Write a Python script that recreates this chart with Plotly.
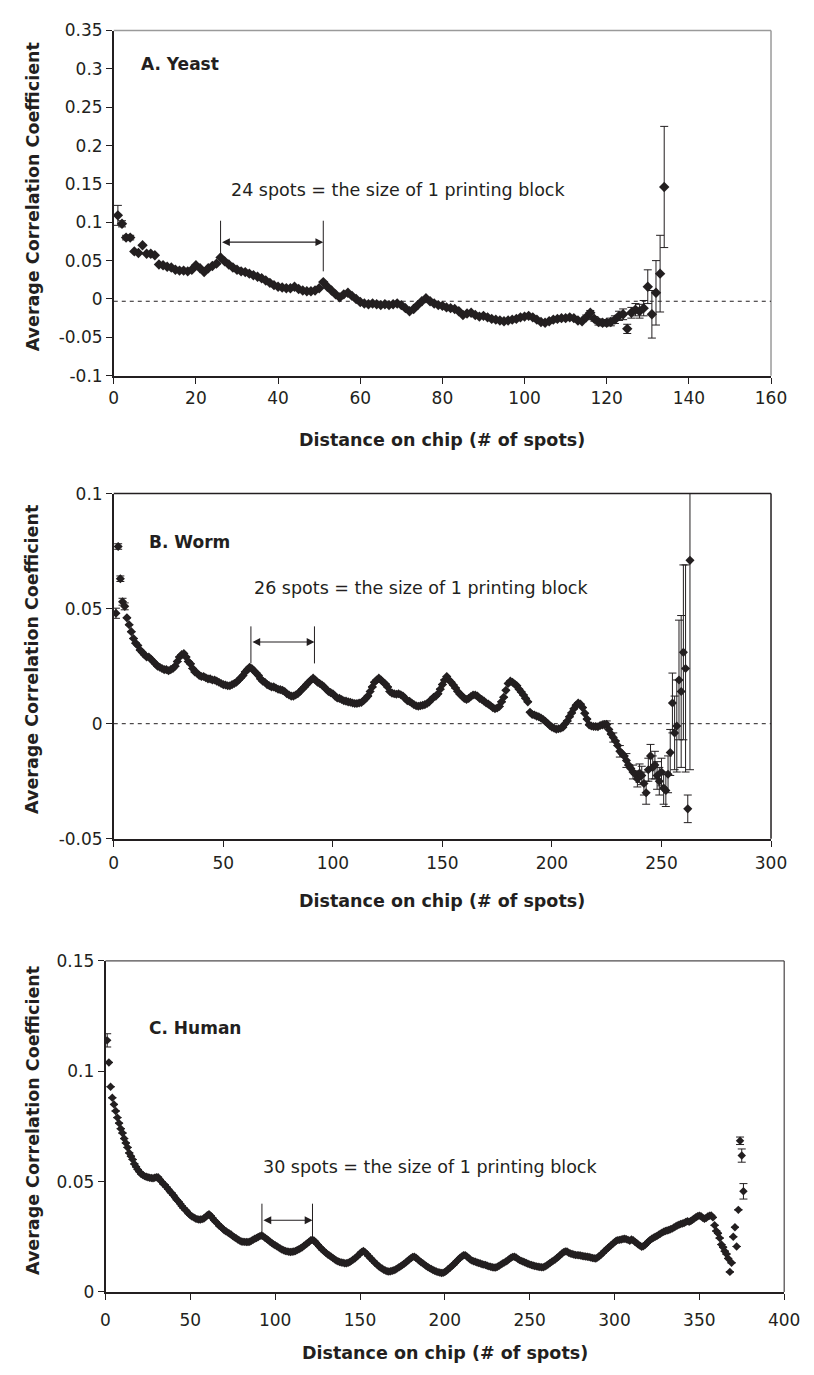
import plotly.graph_objects as go

# The page body keeps its default 8px margin, so the figure is sized to fit inside it
PAGE_W, PAGE_H, OFF = 814, 1375, 8
W, H = PAGE_W - 2 * OFF, PAGE_H - 2 * OFF
INK = "#231f20"
FONT = "DejaVu Sans"

# ---------------- data ----------------
yeast_y = [
    0.109, 0.098, 0.080, 0.080, 0.062, 0.060, 0.070, 0.059, 0.059, 0.057,
    0.045, 0.044, 0.042, 0.041, 0.038, 0.037, 0.037, 0.036, 0.038, 0.044,
    0.040, 0.035, 0.040, 0.043, 0.046, 0.054, 0.049, 0.045, 0.041, 0.038,
    0.036, 0.035, 0.033, 0.031, 0.029, 0.027, 0.024, 0.021, 0.018, 0.016,
    0.015, 0.014, 0.014, 0.016, 0.013, 0.011, 0.010, 0.010, 0.011, 0.014,
    0.022, 0.016, 0.011, 0.006, 0.002, 0.006, 0.008, 0.004, 0.000, -0.004,
    -0.006, -0.007, -0.006, -0.007, -0.008, -0.007, -0.008, -0.007, -0.006, -0.008,
    -0.012, -0.016, -0.013, -0.008, -0.003, 0.001, -0.003, -0.006, -0.008, -0.009,
    -0.011, -0.012, -0.013, -0.016, -0.021, -0.019, -0.018, -0.021, -0.023, -0.022,
    -0.024, -0.026, -0.027, -0.028, -0.029, -0.028, -0.027, -0.026, -0.024, -0.023,
    -0.022, -0.024, -0.027, -0.030, -0.031, -0.029, -0.027, -0.026, -0.025, -0.025,
    -0.024, -0.025, -0.028, -0.029, -0.024, -0.018, -0.026, -0.030, -0.031, -0.031,
    -0.030, -0.027, -0.022, -0.020, -0.039, -0.018, -0.014, -0.016, -0.012, 0.016,
    -0.020, 0.008, 0.033, 0.146,
]
yeast_x = list(range(1, len(yeast_y) + 1))
yeast_err_x = [1, 2, 3, 4, 115, 116, 117, 118, 119, 120, 121, 122, 123, 124,
               125, 126, 127, 128, 129, 130, 131, 132, 133, 134]
yeast_err = [0.013, 0.004, 0.003, 0.003, 0.003, 0.003, 0.003, 0.004, 0.004, 0.004,
             0.005, 0.005, 0.006, 0.007, 0.006, 0.007, 0.008, 0.009, 0.010, 0.022,
             0.031, 0.042, 0.050, 0.079]

worm_y = [
    0.048, 0.077, 0.063, 0.053, 0.051, 0.046, 0.043, 0.040, 0.037, 0.035,
    0.034, 0.032, 0.031, 0.030, 0.029, 0.029, 0.028, 0.027, 0.026, 0.025,
    0.0245, 0.024, 0.0235, 0.0235, 0.023, 0.0235, 0.024, 0.025, 0.027, 0.029,
    0.030, 0.0305, 0.029, 0.027, 0.026, 0.024, 0.0225, 0.022, 0.021, 0.0205,
    0.0205, 0.020, 0.0195, 0.0195, 0.019, 0.019, 0.0185, 0.018, 0.0175, 0.017,
    0.0168, 0.0165, 0.0165, 0.017, 0.0175, 0.018, 0.019, 0.020, 0.021, 0.0225,
    0.0235, 0.0245, 0.024, 0.023, 0.022, 0.021, 0.0195, 0.0185, 0.018, 0.017,
    0.0165, 0.016, 0.016, 0.0155, 0.015, 0.0148, 0.0145, 0.014, 0.013, 0.0125,
    0.012, 0.012, 0.0125, 0.013, 0.014, 0.015, 0.016, 0.017, 0.018, 0.019,
    0.0198, 0.019, 0.018, 0.0175, 0.0168, 0.016, 0.015, 0.014, 0.0135, 0.013,
    0.012, 0.0112, 0.011, 0.0105, 0.010, 0.0098, 0.0095, 0.0093, 0.009, 0.0088,
    0.0088, 0.009, 0.0092, 0.010, 0.011, 0.012, 0.014, 0.016, 0.018, 0.019,
    0.0198, 0.019, 0.018, 0.0172, 0.016, 0.014, 0.0133, 0.013, 0.0128, 0.013,
    0.0126, 0.012, 0.011, 0.010, 0.0097, 0.009, 0.0083, 0.0078, 0.0076, 0.0078,
    0.008, 0.0083, 0.0088, 0.0095, 0.0105, 0.0115, 0.012, 0.013, 0.015, 0.017,
    0.019, 0.0205, 0.019, 0.018, 0.0168, 0.0155, 0.014, 0.0128, 0.012, 0.011,
    0.0105, 0.011, 0.0118, 0.0125, 0.0125, 0.012, 0.011, 0.0105, 0.0098, 0.009,
    0.0085, 0.0078, 0.007, 0.0065, 0.0068, 0.0075, 0.0095, 0.0115, 0.0145, 0.0175,
    0.0185, 0.018, 0.0172, 0.0165, 0.015, 0.0138, 0.0125, 0.011, 0.0095, 0.005,
    0.004, 0.0038, 0.0033, 0.003, 0.0025, 0.0018, 0.001, 0.0002, -0.0008, -0.0015,
    -0.002, -0.0024, -0.0022, -0.002, -0.0015, 0.000, 0.0012, 0.003, 0.0047, 0.0065,
    0.008, 0.009, 0.0085, 0.007, 0.0045, 0.002, -0.0005, -0.001, -0.0012, -0.0012,
    -0.0013, -0.0008, -0.0005, -0.0004, -0.0003, -0.0025, -0.0045, -0.006, -0.0075, -0.0095,
    -0.012, -0.013, -0.014, -0.016, -0.018, -0.0195, -0.021, -0.022, -0.024, -0.0215,
    -0.0225, -0.026, -0.030, -0.020, -0.014, -0.019, -0.018, -0.0225, -0.025, -0.021,
    -0.028, -0.029, -0.022, -0.0125, 0.009, -0.004, -0.001, 0.019, 0.014, 0.031,
    0.024, -0.037, 0.071,
]
worm_x = list(range(1, len(worm_y) + 1))
worm_err_x = [1, 2, 3, 4, 5, 225, 228, 231, 234, 237, 239, 240, 241, 242, 243, 244,
              245, 246, 247, 248, 249, 250, 251, 252, 253, 254, 255, 256, 257, 258,
              259, 260, 261, 262, 263]
worm_err = [0.0022, 0.0012, 0.0012, 0.0015, 0.0015, 0.0015, 0.002, 0.0025, 0.003, 0.003,
            0.0035, 0.004, 0.004, 0.005, 0.005, 0.005, 0.005, 0.005, 0.006, 0.006,
            0.006, 0.006, 0.007, 0.007, 0.008, 0.010, 0.013, 0.016, 0.020, 0.026,
            0.033, 0.038, 0.045, 0.006, 0.091]

human_y = [
    0.114, 0.104, 0.093, 0.088, 0.085, 0.082, 0.079, 0.0765, 0.074, 0.072,
    0.0695, 0.0675, 0.0655, 0.063, 0.0615, 0.060, 0.058, 0.0567, 0.0555, 0.0545,
    0.0535, 0.053, 0.0525, 0.0522, 0.052, 0.0518, 0.0516, 0.0515, 0.0518, 0.052,
    0.052, 0.051, 0.050, 0.049, 0.0485, 0.0475, 0.0465, 0.0455, 0.0448, 0.0438,
    0.0428, 0.0418, 0.041, 0.040, 0.039, 0.038, 0.0372, 0.0365, 0.0355, 0.0348,
    0.0342, 0.0338, 0.0333, 0.033, 0.0328, 0.0328, 0.033, 0.0333, 0.034, 0.0348,
    0.0352, 0.0345, 0.0335, 0.0325, 0.0318, 0.031, 0.030, 0.0295, 0.0288, 0.028,
    0.0275, 0.027, 0.0265, 0.026, 0.0253, 0.0248, 0.0243, 0.0238, 0.0233, 0.0229,
    0.0228, 0.0227, 0.0226, 0.0226, 0.0228, 0.0232, 0.0237, 0.0241, 0.0245, 0.0249,
    0.0253, 0.0256, 0.0252, 0.0246, 0.024, 0.0234, 0.0228, 0.0222, 0.0216, 0.0212,
    0.0207, 0.0202, 0.0197, 0.0192, 0.0189, 0.0186, 0.0184, 0.0182, 0.0181, 0.0182,
    0.0183, 0.0186, 0.019, 0.0194, 0.0198, 0.0203, 0.0209, 0.0215, 0.0221, 0.0228,
    0.0234, 0.0237, 0.0232, 0.0224, 0.0215, 0.0206, 0.0198, 0.019, 0.0183, 0.0177,
    0.017, 0.0165, 0.016, 0.0154, 0.0148, 0.0143, 0.0139, 0.0136, 0.0134, 0.0132,
    0.013, 0.013, 0.0132, 0.0136, 0.0141, 0.0147, 0.0152, 0.0159, 0.0166, 0.0174,
    0.0181, 0.0186, 0.018, 0.0172, 0.0163, 0.0155, 0.0147, 0.0139, 0.0131, 0.0124,
    0.0117, 0.0111, 0.0106, 0.0101, 0.0097, 0.0094, 0.0093, 0.0094, 0.0096, 0.0098,
    0.0102, 0.0107, 0.0112, 0.0117, 0.0122, 0.0128, 0.0134, 0.014, 0.0147, 0.0153,
    0.0158, 0.016, 0.0155, 0.0148, 0.0141, 0.0135, 0.013, 0.0124, 0.0118, 0.0113,
    0.0108, 0.0104, 0.010, 0.0096, 0.0093, 0.009, 0.0088, 0.0086, 0.0087, 0.009,
    0.0096, 0.0103, 0.011, 0.0117, 0.0123, 0.0131, 0.0139, 0.0147, 0.0155, 0.0161,
    0.0166, 0.0167, 0.0161, 0.0154, 0.0147, 0.0142, 0.0139, 0.0137, 0.0134, 0.0131,
    0.0129, 0.0126, 0.0124, 0.0122, 0.0119, 0.0116, 0.0114, 0.0112, 0.0111, 0.0111,
    0.0114, 0.0119, 0.0124, 0.0129, 0.0133, 0.0138, 0.0143, 0.0149, 0.0155, 0.0159,
    0.016, 0.0156, 0.015, 0.0145, 0.0141, 0.0138, 0.0135, 0.0131, 0.0128, 0.0125,
    0.0122, 0.012, 0.0118, 0.0116, 0.0114, 0.0113, 0.0112, 0.0112, 0.0115, 0.012,
    0.0126, 0.0131, 0.0137, 0.0142, 0.0147, 0.0154, 0.016, 0.0167, 0.0174, 0.018,
    0.0184, 0.0183, 0.0178, 0.0174, 0.0172, 0.017, 0.0168, 0.0167, 0.0166, 0.0165,
    0.0163, 0.0162, 0.0161, 0.016, 0.0158, 0.0156, 0.0154, 0.0153, 0.0152, 0.0156,
    0.0162, 0.0169, 0.0176, 0.0184, 0.0191, 0.0198, 0.0205, 0.0212, 0.0219, 0.0225,
    0.0232, 0.0235, 0.0236, 0.0238, 0.024, 0.0241, 0.0239, 0.0236, 0.0232, 0.0238,
    0.0234, 0.0228, 0.0222, 0.0215, 0.021, 0.0205, 0.0207, 0.0213, 0.0221, 0.0229,
    0.0236, 0.0241, 0.0246, 0.025, 0.0254, 0.0259, 0.0264, 0.0269, 0.0273, 0.0276,
    0.0279, 0.0281, 0.0284, 0.0287, 0.0292, 0.0297, 0.0301, 0.0305, 0.0308, 0.031,
    0.0313, 0.0317, 0.0321, 0.0318, 0.0322, 0.0327, 0.0333, 0.0339, 0.0343, 0.0346,
    0.0343, 0.0336, 0.0332, 0.0335, 0.0342, 0.0345, 0.0347, 0.0338, 0.0302, 0.0276,
    0.0266, 0.0244, 0.0215, 0.0203, 0.0185, 0.0172, 0.0152, 0.0091, 0.0132, 0.025,
    0.0293, 0.0206, 0.0372, 0.0685, 0.0618, 0.0456,
]
human_x = list(range(1, len(human_y) + 1))
human_err_x = [1, 374, 375, 376]
human_err = [0.003, 0.0017, 0.003, 0.0035]

# axis ticks
yeast_xticks = [0, 20, 40, 60, 80, 100, 120, 140, 160]
yeast_yticks = [-0.1, -0.05, 0, 0.05, 0.1, 0.15, 0.2, 0.25, 0.3, 0.35]
yeast_ylabels = ["-0.1", "-0.05", "0", "0.05", "0.1", "0.15", "0.2", "0.25", "0.3", "0.35"]
worm_xticks = [0, 50, 100, 150, 200, 250, 300]
worm_yticks = [-0.05, 0, 0.05, 0.1]
worm_ylabels = ["-0.05", "0", "0.05", "0.1"]
human_xticks = [0, 50, 100, 150, 200, 250, 300, 350, 400]
human_yticks = [0, 0.05, 0.1, 0.15]
human_ylabels = ["0", "0.05", "0.1", "0.15"]

# ---------------- layout geometry (page pixels) ----------------
panels = {
    "A": dict(l=111.5, r=786.5, t=20.7, b=371, xr=[0, 160], yr=[-0.1, 0.35], ms=8,
              xt=yeast_xticks, yt=yeast_yticks, yl=yeast_ylabels, xtitle_y=436,
              ytitle_y=189.5, xstand=0),
    "B": dict(l=111.5, r=786.5, t=490.7, b=841, xr=[0, 300], yr=[-0.05, 0.1], ms=7,
              xt=worm_xticks, yt=worm_yticks, yl=worm_ylabels, xtitle_y=904,
              ytitle_y=659, xstand=2),
    "C": dict(l=103, r=800, t=965, b=1301, xr=[0, 400], yr=[0, 0.15], ms=6.5,
              xt=human_xticks, yt=human_yticks, yl=human_ylabels, xtitle_y=1363,
              ytitle_y=1127, xstand=6),
}
series = {"A": (yeast_x, yeast_y, yeast_err_x, yeast_err),
          "B": (worm_x, worm_y, worm_err_x, worm_err),
          "C": (human_x, human_y, human_err_x, human_err)}
suffix = {"A": "", "B": "2", "C": "3"}


def fx(px):
    return (px - OFF) / W


def fy(py):
    return 1 - (py - OFF) / H


fig = go.Figure()
layout = dict(width=W, height=H, margin=dict(l=0, r=0, t=0, b=0),
              paper_bgcolor="white", plot_bgcolor="white", showlegend=False,
              font=dict(family=FONT, color=INK))
shapes, annots = [], []

for k, p in panels.items():
    s = suffix[k]
    xs, ys, ex, ev = series[k]
    emap = dict(zip(ex, ev))
    err = [emap.get(x, 0) for x in xs]
    fig.add_trace(go.Scatter(
        x=xs, y=ys, mode="markers", xaxis="x" + s, yaxis="y" + s,
        marker=dict(symbol="diamond", size=p["ms"], color=INK, line=dict(width=0)),
        error_y=dict(type="data", array=err, visible=True, color=INK, thickness=1, width=4),
        hoverinfo="skip"))
    xd = [fx(p["l"]), fx(p["r"])]
    yd = [fy(p["b"]), fy(p["t"])]
    layout["xaxis" + s] = dict(
        domain=xd, anchor="y" + s, range=p["xr"], tickvals=p["xt"],
        ticktext=[str(v) for v in p["xt"]], ticks="outside", ticklen=6, tickwidth=1,
        tickcolor=INK, showline=True, linecolor=INK, linewidth=2, showgrid=False,
        zeroline=False, tickfont=dict(family=FONT, size=17, color=INK), fixedrange=True,
        ticklabelstandoff=p["xstand"])
    layout["yaxis" + s] = dict(
        domain=yd, anchor="x" + s, range=p["yr"], tickvals=p["yt"], ticktext=p["yl"],
        ticks="outside", ticklen=6, tickwidth=1, tickcolor=INK, showline=True,
        linecolor=INK, linewidth=1.5, showgrid=False, zeroline=False,
        tickfont=dict(family=FONT, size=17, color=INK), fixedrange=True)
    border = "#9a9a9a" if k == "A" else INK
    bw = 1 if k == "C" else 1.5
    shapes.append(dict(type="line", xref="x" + s + " domain", yref="y" + s + " domain",
                       x0=0, x1=1, y0=1, y1=1, line=dict(color=border, width=bw)))
    shapes.append(dict(type="line", xref="x" + s + " domain", yref="y" + s + " domain",
                       x0=1, x1=1, y0=0, y1=1, line=dict(color=border, width=bw)))
    # axis titles
    annots.append(dict(xref="paper", yref="paper", x=fx((p["l"] + p["r"]) / 2),
                       y=fy(p["xtitle_y"]), text="<b>Distance on chip (# of spots)</b>",
                       showarrow=False, xanchor="center", yanchor="middle",
                       font=dict(family=FONT, size=17.5, color=INK)))
    annots.append(dict(xref="paper", yref="paper", x=fx(28), y=fy(p["ytitle_y"]),
                       text="<b>Average Correlation Coefficient</b>", textangle=-90,
                       showarrow=False, xanchor="center", yanchor="middle",
                       font=dict(family=FONT, size=17.5, color=INK)))

# zero reference lines (dashed)
shapes.append(dict(type="line", xref="x domain", yref="y", x0=0, x1=1, y0=-0.003, y1=-0.003,
                   line=dict(color=INK, width=1, dash="4px,4px")))
shapes.append(dict(type="line", xref="x2 domain", yref="y2", x0=0, x1=1, y0=0, y1=0,
                   line=dict(color=INK, width=1, dash="4px,4px")))

# printing-block markers: (axis suffix, left x, right x, top y, bottom-left y, bottom-right y, arrow y)
blocks = [("", 26, 51, 0.102, 0.059, 0.036, 0.074),
          ("2", 62.6, 91.6, 0.0423, 0.0262, 0.0262, 0.0355),
          ("3", 92.2, 122, 0.040, 0.0241, 0.0241, 0.0325)]
for s, xl, xr_, yt, ybl, ybr, ya in blocks:
    shapes.append(dict(type="line", xref="x" + s, yref="y" + s, x0=xl, x1=xl, y0=ybl, y1=yt,
                       line=dict(color=INK, width=1)))
    shapes.append(dict(type="line", xref="x" + s, yref="y" + s, x0=xr_, x1=xr_, y0=ybr, y1=yt,
                       line=dict(color=INK, width=1)))
    annots.append(dict(xref="x" + s, yref="y" + s, axref="x" + s, ayref="y" + s,
                       x=xr_, y=ya, ax=xl, ay=ya, text="", showarrow=True,
                       arrowhead=2, startarrowhead=2, arrowside="end+start",
                       arrowsize=1.3, startarrowsize=1.3, arrowwidth=1.2, arrowcolor=INK,
                       standoff=0, startstandoff=0))

# panel labels and notes
labels = [("", 6.2, 0.306, "<b>A. Yeast</b>", "left", 17),
          ("", 69.3, 0.142, "24 spots = the size of 1 printing block", "center", 17.5),
          ("2", 15.3, 0.079, "<b>B. Worm</b>", "left", 17),
          ("2", 140.3, 0.0591, "26 spots = the size of 1 printing block", "center", 17.5),
          ("3", 24.4, 0.1195, "<b>C. Human</b>", "left", 17),
          ("3", 191.4, 0.0567, "30 spots = the size of 1 printing block", "center", 17.5)]
for s, x, y, t, anc, fs in labels:
    annots.append(dict(xref="x" + s, yref="y" + s, x=x, y=y, text=t, showarrow=False,
                       xanchor=anc, yanchor="middle", font=dict(family=FONT, size=fs, color=INK)))

layout["shapes"] = shapes
layout["annotations"] = annots
fig.update_layout(**layout)
fig.write_html("out.html")
